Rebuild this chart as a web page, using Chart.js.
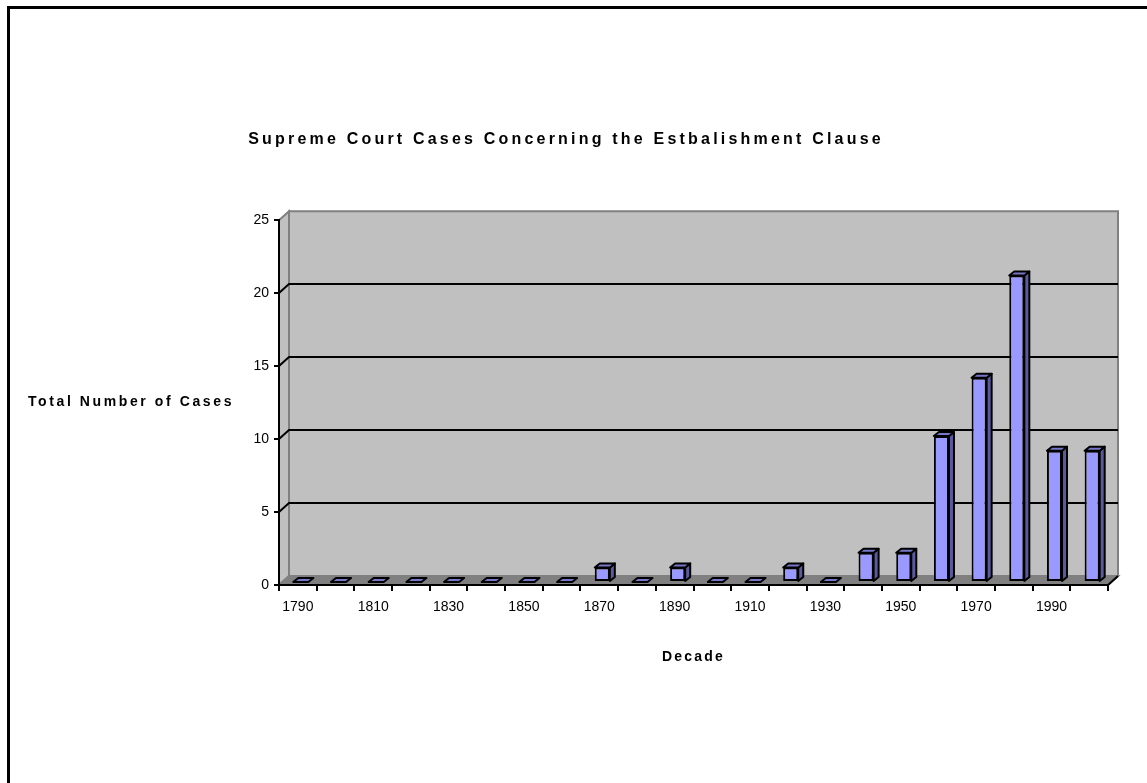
<!DOCTYPE html>
<html>
<head>
<meta charset="utf-8">
<script src="https://cdn.jsdelivr.net/npm/chart.js@4"></script>
<style>
  html, body { margin: 0; padding: 0; background: #fff; }
  canvas { display: block; }
</style>
</head>
<body>
<canvas id="courtChart" width="1147" height="783"></canvas>
<script>
const decades = ['1790', '1800', '1810', '1820', '1830', '1840', '1850', '1860', '1870', '1880', '1890',
                 '1900', '1910', '1920', '1930', '1940', '1950', '1960', '1970', '1980', '1990', '2000'];
const caseCounts = [0, 0, 0, 0, 0, 0, 0, 0, 1, 0, 1, 0, 0, 1, 0, 2, 2, 10, 14, 21, 9, 9];
const yMax = 25;
const yStep = 5;

const chartTitle = 'Supreme Court Cases Concerning the Estbalishment Clause';
const yTitle = 'Total Number of Cases';
const xTitle = 'Decade';

const FONT = 'Arial, "Liberation Sans", sans-serif';

// depth of the 3D walls, and of each bar
const WALL_DX = 10, WALL_DY = 9;
const BAR_DX = 5, BAR_DY = 4;
const BAR_SHIFT_X = 3, BAR_SHIFT_Y = -3;

// letter spacing for text drawn by chart.js parts
const spacing = {
  id: 'spacing',
  beforeDraw(chart) {
    const wrap = (obj, key, ls) => {
      if (!obj || obj['_ls_' + key]) return;
      const orig = obj[key];
      obj[key] = function (...args) {
        const ctx = chart.ctx;
        const prev = ctx.letterSpacing;
        ctx.letterSpacing = ls;
        orig.apply(this, args);
        ctx.letterSpacing = prev;
      };
      obj['_ls_' + key] = true;
    };
    wrap(chart.titleBlock, 'draw', '3.2px');
    wrap(chart.scales.x, 'drawTitle', '2.2px');
  },
  afterDraw(chart) {
    const ctx = chart.ctx;
    ctx.save();
    ctx.letterSpacing = '2.6px';
    ctx.font = 'bold 14px ' + FONT;
    ctx.fillStyle = '#000';
    ctx.textAlign = 'center';
    ctx.textBaseline = 'middle';
    ctx.fillText(yTitle, 131, (chart.chartArea.top + chart.chartArea.bottom) / 2);
    ctx.restore();
  }
};

// white page, frame, walls, floor and wall gridlines
const walls = {
  id: 'walls',
  beforeDraw(chart) {
    const ctx = chart.ctx;
    const {left: L, right: R, top: T, bottom: B} = chart.chartArea;
    const y = chart.scales.y;
    ctx.save();
    ctx.fillStyle = '#fff';
    ctx.fillRect(0, 0, chart.width, chart.height);
    ctx.strokeStyle = '#000';
    ctx.lineWidth = 3;
    ctx.strokeRect(8.5, 7.5, chart.width + 20, chart.height + 20);

    ctx.lineJoin = 'miter';
    ctx.strokeStyle = '#808080';
    ctx.lineWidth = 2;
    ctx.fillStyle = '#C0C0C0';
    // left side wall
    ctx.beginPath();
    ctx.moveTo(L, T); ctx.lineTo(L + WALL_DX, T - WALL_DY);
    ctx.lineTo(L + WALL_DX, B - WALL_DY); ctx.lineTo(L, B);
    ctx.closePath(); ctx.fill(); ctx.stroke();
    // back wall
    ctx.beginPath();
    ctx.rect(L + WALL_DX, T - WALL_DY, R - L, B - T);
    ctx.fill(); ctx.stroke();
    // floor
    ctx.fillStyle = '#808080';
    ctx.beginPath();
    ctx.moveTo(L, B); ctx.lineTo(L + WALL_DX, B - WALL_DY);
    ctx.lineTo(R + WALL_DX, B - WALL_DY); ctx.lineTo(R, B);
    ctx.closePath(); ctx.fill(); ctx.stroke();
    ctx.strokeStyle = '#000';
    ctx.beginPath();
    ctx.moveTo(R, B); ctx.lineTo(R + WALL_DX, B - WALL_DY);
    ctx.stroke();

    // gridlines on the walls
    ctx.strokeStyle = '#000';
    ctx.lineWidth = 2;
    for (let v = yStep; v < yMax; v += yStep) {
      const py = Math.round(y.getPixelForValue(v));
      ctx.beginPath();
      ctx.moveTo(L, py);
      ctx.lineTo(L + WALL_DX, py - WALL_DY);
      ctx.lineTo(R + WALL_DX, py - WALL_DY);
      ctx.stroke();
    }
    ctx.restore();
  },
  beforeDatasetsDraw(chart) {
    chart.ctx.save();
    chart.ctx.translate(BAR_SHIFT_X, BAR_SHIFT_Y);
  },
  afterDatasetsDraw(chart) {
    const ctx = chart.ctx;
    const meta = chart.getDatasetMeta(0);
    ctx.lineWidth = 2;
    ctx.strokeStyle = '#000';
    ctx.lineJoin = 'round';
    meta.data.forEach(bar => {
      const {x, y, base, width} = bar.getProps(['x', 'y', 'base', 'width'], true);
      const l = x - width / 2, r = x + width / 2, top = Math.min(y, base);
      if (base - top > 0.5) {
        ctx.fillStyle = '#5A5A9E';
        ctx.beginPath();
        ctx.moveTo(r, top); ctx.lineTo(r + BAR_DX, top - BAR_DY);
        ctx.lineTo(r + BAR_DX, base - BAR_DY); ctx.lineTo(r, base);
        ctx.closePath(); ctx.fill(); ctx.stroke();
      }
      ctx.fillStyle = '#7777C8';
      ctx.beginPath();
      ctx.moveTo(l, top); ctx.lineTo(l + BAR_DX, top - BAR_DY);
      ctx.lineTo(r + BAR_DX, top - BAR_DY); ctx.lineTo(r, top);
      ctx.closePath(); ctx.fill(); ctx.stroke();
    });
    ctx.restore();
  }
};

const config = {
  type: 'bar',
  data: {
    labels: decades,
    datasets: [{
      label: 'Cases',
      data: caseCounts,
      backgroundColor: '#9999FF',
      borderColor: '#000',
      borderWidth: 2,
      borderSkipped: false,
      barPercentage: 0.4,
      categoryPercentage: 1.0,
      clip: false
    }]
  },
  options: {
    responsive: false,
    animation: false,
    devicePixelRatio: 1,
    layout: { padding: { left: 24, right: 39, top: 0, bottom: 108 } },
    plugins: {
      legend: { display: false },
      tooltip: { enabled: false },
      title: {
        display: true,
        text: chartTitle,
        color: '#000',
        font: { family: FONT, size: 16, weight: 'bold' },
        padding: { top: 130, bottom: 71 }
      }
    },
    scales: {
      x: {
        grid: { drawOnChartArea: false, color: '#000', lineWidth: 2, tickLength: 6 },
        border: { display: true, color: '#000', width: 2 },
        ticks: {
          autoSkip: false,
          maxRotation: 0,
          color: '#000',
          padding: 8,
          font: { family: FONT, size: 14 },
          callback: (v, i) => (i % 2 === 0 ? decades[i] : '')
        },
        title: {
          display: true,
          text: xTitle,
          color: '#000',
          font: { family: FONT, size: 14, weight: 'bold' },
          padding: { top: 0, bottom: 9 }
        },
        afterFit: s => { s.height = 90; }
      },
      y: {
        min: 0,
        max: yMax,
        grid: { drawOnChartArea: false, color: '#000', lineWidth: 2, tickLength: 5 },
        border: { display: true, color: '#000', width: 2 },
        ticks: {
          stepSize: yStep,
          color: '#000',
          padding: 5,
          font: { family: FONT, size: 14 }
        },
        afterFit: s => { s.width = 255; }
      }
    }
  },
  plugins: [walls, spacing]
};

const courtChart = new Chart(document.getElementById('courtChart'), config);
</script>
</body>
</html>
